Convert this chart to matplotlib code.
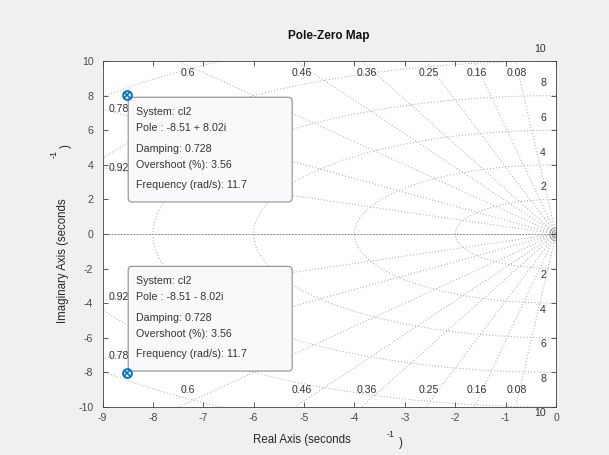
import numpy as np
import matplotlib
matplotlib.use('Agg')
import matplotlib.pyplot as plt
from matplotlib.patches import FancyBboxPatch
from matplotlib.transforms import IdentityTransform

plt.rcParams['font.family'] = ['Liberation Sans', 'DejaVu Sans']
plt.rcParams['axes.unicode_minus'] = False

# ---------------- data ----------------
pole_re = [-8.51, -8.51]
pole_im = [8.02, -8.02]
damping_vals = [0.08, 0.16, 0.25, 0.36, 0.46, 0.6, 0.78, 0.92]
damping_labels = ['0.08', '0.16', '0.25', '0.36', '0.46', '0.6', '0.78', '0.92']
wn_circles = [2, 4, 6, 8, 10, 12]
wn_labels = [2, 4, 6, 8, 10]
tip_system = 'cl2'
tip_damping = 0.728
tip_overshoot = 3.56
tip_freq = 11.7
xticks = list(range(-9, 1))
yticks = list(range(-10, 11, 2))

# ---------------- figure ----------------
W, H = 609, 455
fig = plt.figure(figsize=(W / 100, H / 100), dpi=100, facecolor='#f0f0f0')
L, R, T, B = 102.5, 556, 61, 407
ax = fig.add_axes([L / W, 1 - B / H, (R - L) / W, (B - T) / H])
ax.set_facecolor('white')
ax.set_xlim(-9, 0)
ax.set_ylim(-10, 10)

gc = '#a3a3a3'
gls = (0, (1, 2.2))
# natural-frequency circles
theta = np.linspace(np.pi / 2, 3 * np.pi / 2, 600)
for wn in wn_circles:
    ax.plot(wn * np.cos(theta), wn * np.sin(theta), color=gc, lw=0.7, ls=gls, zorder=1)
# constant damping rays
Rr = 40
for z in damping_vals:
    s = np.sqrt(1 - z ** 2)
    for sg in (1, -1):
        ax.plot([0, -Rr * z], [0, sg * Rr * s], color=gc, lw=0.7, ls=gls, zorder=1)
# real axis
ax.plot([-Rr, 0], [0, 0], color='#8a8a8a', lw=0.7, ls=(0, (2, 1.2)), zorder=1)
# small arcs at origin
for ms in (3.5, 6.5, 9.5):
    ax.plot([0], [0], marker='o', ms=ms, mfc='none', mec='#9a9a9a', mew=0.6, zorder=1)

lab_color = '#333333'
lab_fs = 7.6
# damping labels
for z, lab in zip(damping_vals, damping_labels):
    s = np.sqrt(1 - z ** 2)
    xt = -9.75 * z / s
    if xt > -9:
        ax.annotate(lab, xy=(xt, 10), xytext=(0, -11.7), textcoords='offset pixels',
                    ha='center', va='center', fontsize=lab_fs, color=lab_color, zorder=2)
        ax.annotate(lab, xy=(xt, -10), xytext=(0, 17), textcoords='offset pixels',
                    ha='center', va='center', fontsize=lab_fs, color=lab_color, zorder=2)
    else:
        yl = 9 * s / z
        ax.annotate(lab, xy=(-9, yl), xytext=(6, 0), textcoords='offset pixels',
                    ha='left', va='center', fontsize=lab_fs, color=lab_color, zorder=2)
        ax.annotate(lab, xy=(-9, -yl), xytext=(6, 3), textcoords='offset pixels',
                    ha='left', va='center', fontsize=lab_fs, color=lab_color, zorder=2)
# frequency labels
for wn in wn_labels:
    ax.annotate(str(wn), xy=(-0.2, wn), xytext=(0, 12.3), textcoords='offset pixels',
                ha='right', va='center', fontsize=lab_fs, color=lab_color,
                annotation_clip=False, zorder=2)
    ax.annotate(str(wn), xy=(-0.2, -wn), xytext=(0, -6.3), textcoords='offset pixels',
                ha='right', va='center', fontsize=lab_fs, color=lab_color,
                annotation_clip=False, zorder=2)

# axes styling
ax.set_xticks(xticks)
ax.set_yticks(yticks)
ax.tick_params(axis='both', direction='in', length=3.3, width=0.6, color='#404040',
               labelcolor='#4a4a4a', labelsize=7.6, top=True, right=True)
ax.tick_params(axis='x', pad=4)
ax.tick_params(axis='y', pad=6.6)
for sp in ax.spines.values():
    sp.set_color('#404040')
    sp.set_linewidth(0.6)

# ---------------- data tips ----------------
fig.canvas.draw()
box_w, box_h = 164, 104.7
line_off = [15, 31, 52, 67.3, 88]
for re, im in zip(pole_re, pole_im):
    px, py = ax.transData.transform((re, im))
    x0 = px + 1
    if im > 0:
        top = py - 2
    else:
        top = py + 1.7 + box_h
    patch = FancyBboxPatch((x0, top - box_h), box_w, box_h,
                           boxstyle='round,pad=0,rounding_size=4',
                           transform=IdentityTransform(), fc='#f9f9fc', ec='#8f8f8f',
                           lw=0.8, clip_on=False, zorder=5)
    ax.add_artist(patch)
    sign = '+' if im > 0 else '-'
    lines = [f'System: {tip_system}',
             f'Pole : {re:.2f} {sign} {abs(im):.2f}i',
             f'Damping: {tip_damping:.3f}',
             f'Overshoot (%): {tip_overshoot:.2f}',
             f'Frequency (rad/s): {tip_freq:.1f}']
    for txt, off in zip(lines, line_off):
        ax.text(x0 + 8, top - off, txt, transform=IdentityTransform(), fontsize=7.7,
                color='#333333', ha='left', va='center', zorder=6, clip_on=False)
    ax.plot([re], [im], marker='o', ms=6.3, mfc='none', mec='#0072BD', mew=1.4,
            clip_on=False, zorder=7)
    ax.plot([re], [im], marker='x', ms=4.2, mec='#0072BD', mew=1.2,
            clip_on=False, zorder=7)

# ---------------- titles / labels ----------------
def ft(x, y, s, **kw):
    fig.text(x / W, 1 - y / H, s, **kw)

ft(329, 36.5, 'Pole-Zero Map', fontsize=8.5, fontweight='bold', ha='center', va='center',
   color='#111111')
ft(302, 440.5, 'Real Axis (seconds', fontsize=8.3, ha='center', va='center', color='#262626')
ft(390.3, 434.5, '-1', fontsize=6.5, ha='center', va='center', color='#262626')
ft(401, 443, ')', fontsize=8.3, ha='center', va='center', color='#262626')
ft(63, 261, 'Imaginary Axis (seconds', fontsize=8.3, ha='center', va='center',
   rotation=90, color='#262626')
ft(53.7, 154, '-1', fontsize=6.5, ha='center', va='center', rotation=90, color='#262626')
ft(66, 146.5, ')', fontsize=8.3, ha='center', va='center', rotation=90, color='#262626')

fig.savefig('out.png', dpi=100, facecolor=fig.get_facecolor())
